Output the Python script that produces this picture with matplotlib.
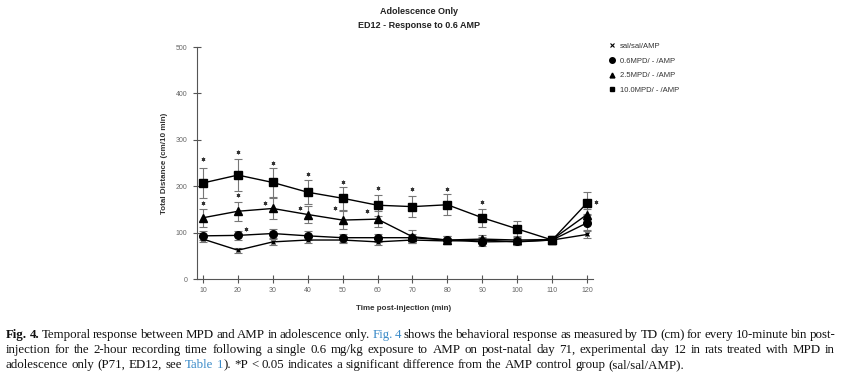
import matplotlib
matplotlib.use("Agg")
import matplotlib.pyplot as plt
from matplotlib.lines import Line2D

# data (Total distance, cm / 10 min)
time = [10, 20, 30, 40, 50, 60, 70, 80, 90, 100, 110, 120]
sal = [86, 62, 80, 84, 84, 80, 84, 82, 84, 80, 84, 96]
sal_err = [7, 5, 6, 6, 6, 6, 6, 6, 6, 6, 6, 7]
mpd06 = [93, 94, 98, 93, 89, 89, 89, 84, 80, 81, 84, 121]
mpd06_err = [10, 10, 10, 10, 9, 9, 9, 8, 8, 8, 8, 16]
mpd25 = [132, 146, 152, 139, 127, 129, 91, 84, 86, 84, 85, 139]
mpd25_err = [19, 21, 23, 18, 20, 18, 14, 9, 9, 9, 8, 12]
mpd10 = [207, 224, 208, 187, 174, 159, 156, 160, 132, 108, 84, 164]
mpd10_err = [32, 34, 32, 26, 25, 23, 23, 23, 19, 17, 8, 24]

labels = ["sal/sal/AMP", "0.6MPD/ - /AMP", "2.5MPD/ - /AMP", "10.0MPD/ - /AMP"]

# significance stars (P < 0.05)
star_x = [10, 20, 30, 40, 50, 60, 70, 80, 90, 10, 20, 27.8, 37.8, 47.8, 57, 22.2, 122.5]
star_y = [258, 273, 251, 226, 210, 197, 193, 193, 165, 164, 180, 163, 154, 154, 146, 108, 165]

sans = "Liberation Sans"
serif = "Liberation Serif"

fig = plt.figure(figsize=(8.48, 3.79), dpi=100)
W, H = 848, 379
ax = fig.add_axes([197 / W, 100 / H, (593 - 197) / W, (279 - 47) / H])

series = [(sal, sal_err, "x", 3.5), (mpd06, mpd06_err, "o", 5.5),
          (mpd25, mpd25_err, "^", 5.5), (mpd10, mpd10_err, "s", 5.8)]
for vals, err, m, ms in series:
    ax.errorbar(time, vals, yerr=err, fmt="none", ecolor="#777777",
                elinewidth=0.8, capsize=3, capthick=0.8, zorder=2)
    ax.plot(time, vals, color="black", lw=1.0, marker=m, ms=ms,
            mew=1.0, mfc="black", mec="black", zorder=3)

ax.scatter(star_x, star_y, marker=(6, 2, 0), s=5, color="#333333",
           linewidths=0.6, clip_on=False, zorder=4)

ax.set_xlim(8.28, 121.7)
ax.set_ylim(0, 500)
ax.set_xticks(time)
ax.set_yticks([0, 100, 200, 300, 400, 500])
for s in ["top", "right"]:
    ax.spines[s].set_visible(False)
for s in ["left", "bottom"]:
    ax.spines[s].set_color("#555555")
    ax.spines[s].set_linewidth(0.8)
ax.tick_params(axis="both", direction="inout", length=6, width=0.8,
               color="#555555", labelsize=5, labelcolor="#666666")
ax.tick_params(axis="y", pad=4)
ax.tick_params(axis="x", pad=3)
for lab in ax.get_xticklabels() + ax.get_yticklabels():
    lab.set_fontfamily(sans)

fig.text(164 / W, 1 - 163 / H, "Total Distance (cm/10 min)", rotation=90,
         ha="center", va="center", fontsize=5.8, fontweight="bold",
         family=sans, color="#333333")
fig.text(404 / W, 1 - 309 / H, "Time post-injection (min)", ha="center",
         va="center", fontsize=5.8, fontweight="bold", family=sans,
         color="#333333")
fig.text(419 / W, 1 - 11 / H, "Adolescence Only", ha="center", va="center",
         fontsize=6.5, fontweight="bold", family=sans, color="#222222")
fig.text(419 / W, 1 - 26 / H, "ED12 - Response to 0.6 AMP", ha="center",
         va="center", fontsize=6.5, fontweight="bold", family=sans,
         color="#222222")

handles = [Line2D([], [], ls="none", marker="x", ms=2.5, color="black", mew=0.8),
           Line2D([], [], ls="none", marker="o", ms=4, color="black"),
           Line2D([], [], ls="none", marker="^", ms=3.5, color="black"),
           Line2D([], [], ls="none", marker="s", ms=3.5, color="black")]
leg = fig.legend(handles, labels, loc="upper left",
                 bbox_to_anchor=(605 / W, 1 - 39 / H), frameon=False,
                 prop={"family": sans, "size": 5.5}, handlelength=0.8,
                 handletextpad=0.7, labelspacing=0.95, borderpad=0)
for t in leg.get_texts():
    t.set_color("#333333")

# caption, justified word by word
blue = "#3b8bc8"
cap_lines = [
    [("Fig. 4.", "bold"), (" Temporal response between MPD and AMP in adolescence only. ", "n"),
     ("Fig. 4", "blue"), (" shows the behavioral response as measured by TD (cm) for every 10-minute bin post-", "n")],
    [("injection for the 2-hour recording time following a single 0.6 mg/kg exposure to AMP on "
      "post-natal day 71, experimental day 12 in rats treated with MPD in", "n")],
    [("adolescence only (P71, ED12, see ", "n"), ("Table 1", "blue"),
     ("). *P < 0.05 indicates a significant difference from the AMP control group (sal/sal/AMP).", "n")],
]
cap_y = [335, 350, 365]
x0, x1 = 6, 835
fs = 9.3

renderer = fig.canvas.get_renderer()


def make_text(s, st):
    return fig.text(0, 0, s, fontsize=fs, family=serif, va="center", ha="left",
                    fontweight="bold" if st == "bold" else "normal",
                    color=blue if st == "blue" else "#111111")


def words_of(segs):
    words = [[]]
    for txt, st in segs:
        parts = txt.split(" ")
        for i, p in enumerate(parts):
            if i > 0:
                words.append([])
            if p:
                words[-1].append((p, st))
    return [w for w in words if w]


tmp = make_text("a a", "n")
w_aa = tmp.get_window_extent(renderer).width
tmp.set_text("aa")
space_w = w_aa - tmp.get_window_extent(renderer).width
tmp.remove()

for li, segs in enumerate(cap_lines):
    words = words_of(segs)
    placed = []
    total = 0
    for w in words:
        pieces = []
        ww = 0
        for p, st in w:
            t = make_text(p, st)
            pw = t.get_window_extent(renderer).width
            pieces.append((t, pw))
            ww += pw
        placed.append((pieces, ww))
        total += ww
    if li < len(cap_lines) - 1:
        gap = (x1 - x0 - total) / (len(words) - 1)
    else:
        gap = space_w
    x = x0
    for pieces, ww in placed:
        for t, pw in pieces:
            t.set_position((x / W, 1 - cap_y[li] / H))
            x += pw
        x += gap

fig.savefig("out.png", dpi=100)
